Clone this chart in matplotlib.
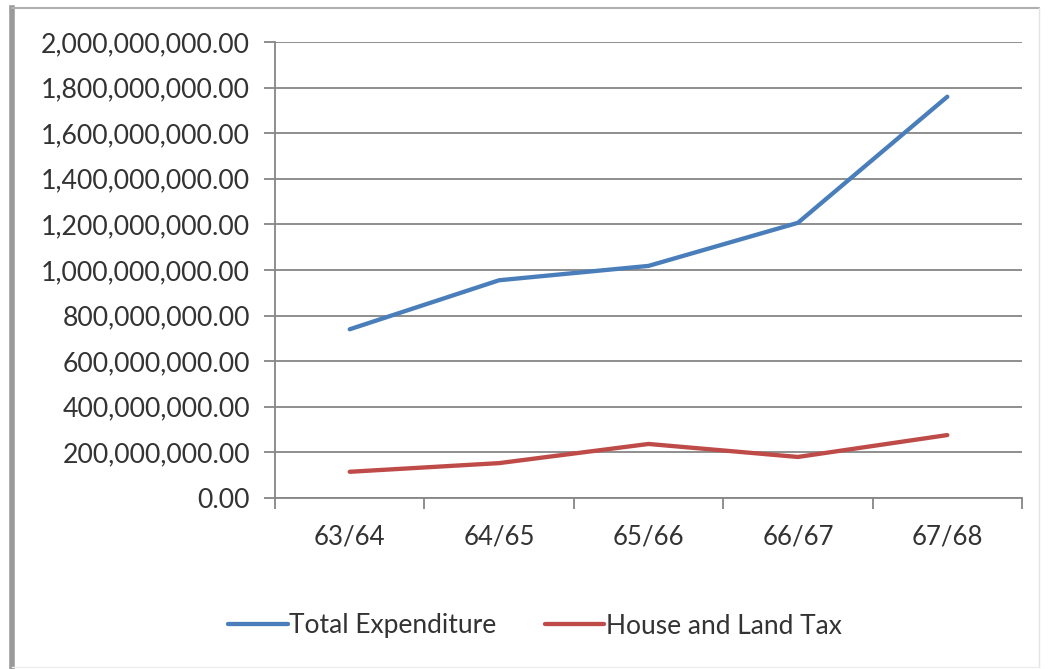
import matplotlib
matplotlib.use("Agg")
import matplotlib.pyplot as plt
from matplotlib.lines import Line2D
from matplotlib.ticker import FuncFormatter, FixedLocator

# Fiscal years and amounts
years = ["63/64", "64/65", "65/66", "66/67", "67/68"]
total_expenditure = [740_000_000, 955_000_000, 1_018_000_000, 1_207_000_000, 1_760_000_000]
house_land_tax = [115_000_000, 153_000_000, 237_000_000, 180_000_000, 276_000_000]

W, H = 1048, 669
fig = plt.figure(figsize=(W / 100, H / 100), dpi=100)
fig.patch.set_facecolor("white")

# Frame around the chart area
fig.add_artist(Line2D([12 / W, 12 / W], [0, 1 - 8 / H], color="#9a9a9a", lw=4.0))
fig.add_artist(Line2D([12 / W, 1039 / W], [1 - 8 / H, 1 - 8 / H], color="#b0b0b0", lw=1.5))
fig.add_artist(Line2D([1039 / W, 1039 / W], [2 / H, 1 - 8 / H], color="#e4e4e4", lw=1.0))
fig.add_artist(Line2D([12 / W, 1039 / W], [2 / H, 2 / H], color="#ededed", lw=1.0))

left, right, top, bottom = 275, 1022, 42, 498
ax = fig.add_axes([left / W, 1 - bottom / H, (right - left) / W, (bottom - top) / H])

x = range(len(years))
ax.plot(x, total_expenditure, color="#4a7ebb", lw=3.1, solid_capstyle="round",
        solid_joinstyle="round", label="Total Expenditure")
ax.plot(x, house_land_tax, color="#be4b48", lw=3.1, solid_capstyle="round",
        solid_joinstyle="round", label="House and Land Tax")

ax.set_xlim(-0.5, len(years) - 0.5)
ax.set_ylim(0, 2_000_000_000)

font = "Lato"
grey = "#868686"
text_col = "#333333"

ax.yaxis.set_major_locator(FixedLocator([i * 200_000_000 for i in range(11)]))
ax.yaxis.set_major_formatter(FuncFormatter(lambda v, p: f"{v:,.2f}"))
ax.grid(axis="y", color=grey, lw=1.3)
ax.set_axisbelow(True)

ax.set_xticks([i - 0.5 for i in range(len(years) + 1)])
ax.set_xticklabels([])
ax.set_xticks(list(x), minor=True)
ax.set_xticklabels(years, minor=True)
ax.tick_params(axis="x", which="major", length=8, width=1.3, color=grey, direction="out")
ax.tick_params(axis="x", which="minor", length=0, pad=19, labelsize=18.5, labelcolor=text_col)
ax.tick_params(axis="y", length=8, width=1.3, color=grey, direction="out",
               labelsize=19.2, labelcolor=text_col, pad=10)
for lab in ax.get_xticklabels(minor=True) + ax.get_yticklabels():
    lab.set_fontfamily(font)

for side in ["top", "right"]:
    ax.spines[side].set_visible(False)
for side in ["left", "bottom"]:
    ax.spines[side].set_color(grey)
    ax.spines[side].set_linewidth(1.3)

leg = fig.legend(loc="center", bbox_to_anchor=(535 / W, 1 - 626 / H), ncol=2,
                 frameon=False, prop={"family": font, "size": 19},
                 handlelength=2.25, handletextpad=0.05, columnspacing=1.85)
for t in leg.get_texts():
    t.set_color(text_col)

fig.savefig("out.png", dpi=100, facecolor="white")
